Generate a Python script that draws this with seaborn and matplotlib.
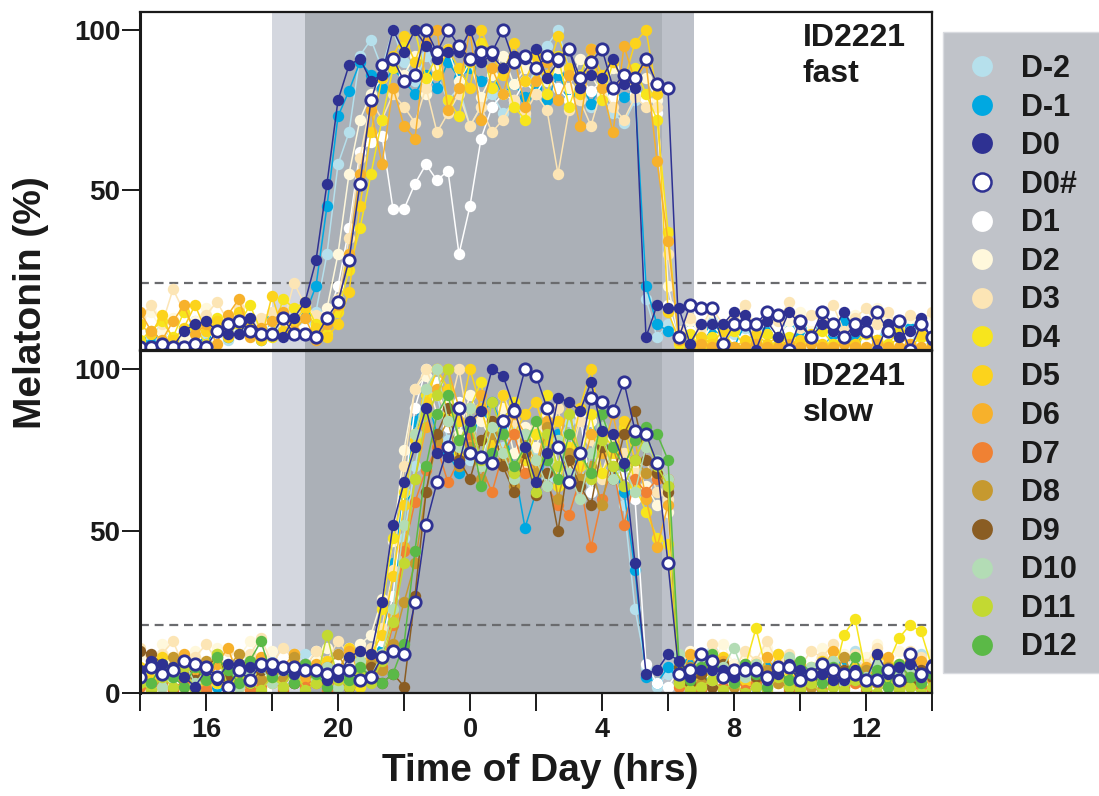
import numpy as np
import pandas as pd
import matplotlib
matplotlib.use("Agg")
import matplotlib.pyplot as plt
from matplotlib.lines import Line2D
from matplotlib.patches import Rectangle
import seaborn as sns

# Samples every 20 min, 14:00 -> 14:00 next day (hours past midnight > 24)
START_HOUR = 14
STEP_HOURS = 1 / 3

DAYS = ["D-2", "D-1", "D0", "D0#", "D1", "D2", "D3", "D4", "D5", "D6",
        "D7", "D8", "D9", "D10", "D11", "D12"]
DAY_COLORS = ["#B6E0EC", "#00A8E1", "#2E3192", "#2E3192", "#FFFFFF", "#FFF8DC",
              "#FCE5B5", "#F7E51D", "#FCD31C", "#F7B12B", "#F08133", "#C6992F",
              "#8A5D23", "#B3DCB5", "#C3D932", "#5BB947"]

# ---- ID2221 (fast) ----
FAST_DM2 = [6, 3, 8, 5, 2, 9, 4, 7, 3, 6, 8, 4,
            7, 5, 9, 8, 12, 30, 58, 68, 92, 97, 88, 100,
            90, 84, 92, 86, 78, 82, 70, 76, 80, 74, 77, 73,
            85, 95, 100, 88, 82, 76, 80, 74, 71, 78, 16, 4,
            8, 2, 6, 4, 9, 3, 5, 7, 2, 6, 4, 8,
            3, 7, 5, 2, 8, 4, 6, 3, 9, 5, 2, 7,
            4]
FAST_DM1 = [4, 2, 6, 3, 8, 5, 2, 7, 4, 9, 6, 3,
            10, 6, 8, 11, 20, 45, 73, 81, 90, 86, 82, 88,
            84, 80, 86, 82, 90, 85, 88, 84, 86, 80, 83, 79,
            82, 78, 86, 80, 84, 77, 83, 80, 79, 81, 20, 8,
            6, 3, 9, 2, 7, 4, 1, 8, 3, 6, 2, 9,
            4, 7, 1, 5, 9, 3, 6, 2, 8, 4, 7, 3,
            5]
FAST_D0 = [1, 1, 2, 1, 6, 8, 9, 6, 5, 5, 10, 5,
           5, 4, 10, 15, 28, 52, 78, 89, 91, 84, 86, 100,
           93, 100, 95, 91, 93, 93, 100, 90, 92, 88, 92, 91,
           94, 85, 90, 94, 82, 86, 85, 91, 83, 82, 4, 14,
           13, 13, 2, 8, 8, 8, 12, 11, 0, 9, 4, 12,
           8, 4, 8, 6, 12, 6, 9, 0, 8, 4, 6, 10,
           3]
FAST_D0H = [1, 1, 2, 1, 1, 2, 1, 6, 8, 9, 6, 5,
            5, 10, 5, 5, 4, 10, 15, 28, 52, 78, 89, 91,
            84, 86, 100, 93, 100, 95, 91, 93, 93, 100, 90, 92,
            88, 92, 91, 94, 85, 90, 94, 82, 86, 85, 91, 83,
            82, 4, 14, 13, 13, 2, 8, 8, 8, 12, 11, 0,
            9, 4, 12, 8, 4, 8, 6, 12, 6, 9, 0, 8,
            4]
FAST_D1 = [5, 8, 3, 6, 9, 4, 7, 2, 8, 5, 3, 9,
           6, 4, 8, 7, 5, 10, 20, 38, 62, 65, 67, 44,
           44, 52, 58, 53, 56, 30, 45, 66, 76, 80, 78, 84,
           80, 86, 82, 78, 85, 81, 84, 79, 83, 80, 78, 74,
           14, 3, 6, 2, 8, 4, 7, 1, 5, 9, 3, 6,
           2, 8, 4, 6, 3, 7, 5, 1, 8, 4, 6, 3,
           7]
FAST_D2 = [8, 12, 6, 10, 4, 9, 13, 7, 5, 11, 8, 6,
           9, 12, 7, 14, 10, 13, 30, 55, 72, 80, 85, 90,
           86, 92, 80, 88, 94, 84, 90, 79, 86, 92, 83, 88,
           90, 84, 88, 82, 91, 86, 80, 88, 84, 82, 85, 78,
           20, 4, 9, 6, 12, 5, 8, 14, 7, 10, 4, 9,
           12, 6, 10, 8, 5, 11, 7, 13, 9, 6, 10, 8,
           11]
FAST_D3 = [10, 14, 8, 19, 12, 7, 11, 15, 9, 13, 6, 10,
           12, 8, 21, 14, 11, 9, 16, 35, 60, 78, 72, 80,
           76, 71, 82, 68, 74, 80, 70, 76, 68, 72, 78, 74,
           80, 75, 55, 75, 78, 70, 82, 76, 72, 79, 76, 76,
           30, 6, 10, 7, 13, 8, 11, 14, 6, 12, 9, 15,
           7, 11, 9, 14, 6, 10, 13, 8, 12, 7, 11, 9,
           12]
FAST_D4 = [3, 6, 9, 4, 12, 7, 2, 10, 5, 8, 14, 6,
           4, 16, 13, 15, 8, 5, 12, 25, 38, 55, 72, 88,
           95, 100, 85, 92, 78, 73, 90, 96, 82, 88, 76, 72,
           88, 80, 92, 76, 86, 94, 78, 90, 84, 88, 80, 72,
           37, 2, 5, 1, 4, 2, 6, 1, 3, 5, 2, 4,
           1, 3, 6, 2, 4, 1, 5, 3, 2, 6, 1, 4,
           2]
FAST_D5 = [8, 5, 11, 3, 7, 14, 6, 9, 4, 12, 7, 3,
           17, 6, 9, 13, 7, 4, 8, 18, 45, 68, 85, 92,
           98, 90, 100, 86, 94, 88, 82, 100, 92, 86, 96, 84,
           92, 86, 98, 88, 80, 94, 86, 90, 84, 96, 100, 80,
           12, 3, 1, 4, 2, 6, 1, 3, 5, 2, 4, 1,
           3, 5, 2, 1, 4, 2, 6, 3, 1, 4, 2, 5,
           1]
FAST_D6 = [12, 6, 3, 9, 14, 5, 8, 2, 11, 16, 4, 7,
           9, 12, 6, 10, 3, 8, 14, 30, 55, 75, 58, 82,
           70, 66, 96, 100, 75, 82, 100, 72, 88, 80, 92, 76,
           84, 90, 78, 86, 70, 94, 82, 68, 95, 84, 90, 59,
           34, 3, 1, 2, 1, 2, 1, 1, 2, 1, 1, 2,
           1, 2, 1, 1, 2, 1, 1, 2, 1, 1, 2, 1,
           1]

# ---- ID2241 (slow) ----
SLOW_DM2 = [9, 5, 12, 7, 4, 10, 6, 13, 8, 5, 11, 7,
            10, 6, 9, 12, 5, 8, 11, 7, 9, 13, 10, 22,
            48, 70, 86, 92, 78, 84, 72, 88, 80, 76, 82, 70,
            74, 66, 78, 84, 70, 62, 76, 68, 58, 26, 8, 2,
            6, 11, 4, 8, 13, 5, 9, 3, 10, 7, 12, 5,
            8, 4, 11, 6, 9, 13, 5, 7, 10, 4, 8, 12,
            6]
SLOW_DM1 = [6, 3, 8, 5, 9, 4, 7, 2, 6, 10, 5, 8,
            4, 7, 3, 9, 6, 5, 8, 4, 10, 7, 14, 40,
            61, 84, 92, 80, 74, 68, 78, 86, 90, 82, 70, 51,
            62, 74, 80, 66, 72, 84, 76, 70, 62, 38, 5, 3,
            8, 4, 10, 6, 3, 9, 5, 7, 2, 8, 6, 4,
            9, 3, 7, 5, 10, 4, 6, 8, 3, 7, 5, 9,
            4]
SLOW_D0 = [7, 10, 9, 8, 5, 2, 7, 4, 9, 9, 8, 8,
           7, 7, 6, 7, 7, 4, 5, 11, 13, 12, 28, 52,
           65, 76, 88, 74, 73, 71, 84, 87, 100, 98, 88, 76,
           65, 74, 91, 90, 87, 96, 81, 80, 71, 40, 6, 7,
           12, 10, 5, 7, 7, 7, 5, 8, 8, 4, 6, 9,
           7, 6, 6, 4, 4, 7, 4, 12, 6, 8, 9, 5,
           9]
SLOW_D0H = [5, 8, 6, 7, 10, 9, 8, 5, 2, 7, 4, 9,
            9, 8, 8, 7, 7, 6, 7, 7, 4, 5, 11, 13,
            12, 28, 52, 65, 76, 88, 74, 73, 71, 84, 87, 100,
            98, 88, 76, 65, 74, 91, 90, 87, 96, 81, 80, 71,
            40, 6, 7, 12, 10, 5, 7, 7, 7, 5, 8, 8,
            4, 6, 9, 7, 6, 6, 4, 4, 7, 4, 12, 6,
            8]
SLOW_D1 = [10, 6, 13, 8, 4, 11, 7, 3, 9, 12, 5, 8,
           6, 11, 4, 9, 13, 7, 10, 14, 8, 12, 16, 30,
           62, 88, 100, 96, 82, 90, 76, 70, 84, 72, 88, 78,
           70, 80, 66, 74, 86, 62, 78, 72, 68, 60, 9, 3,
           2, 7, 4, 10, 6, 3, 8, 5, 11, 4, 7, 2,
           6, 9, 3, 8, 5, 2, 7, 10, 4, 6, 3, 8,
           5]
SLOW_D2 = [12, 8, 15, 10, 6, 13, 9, 14, 7, 11, 16, 9,
           13, 8, 11, 6, 10, 14, 12, 9, 15, 18, 29, 47,
           75, 94, 98, 86, 90, 80, 92, 84, 78, 88, 74, 82,
           76, 86, 70, 80, 74, 84, 68, 78, 72, 70, 64, 58,
           56, 8, 13, 6, 10, 15, 9, 12, 7, 14, 11, 6,
           10, 7, 14, 9, 12, 6, 11, 15, 8, 13, 10, 7,
           12]
SLOW_D3 = [14, 9, 12, 16, 8, 11, 15, 10, 13, 7, 12, 17,
           9, 14, 11, 8, 13, 10, 16, 12, 9, 14, 20, 38,
           70, 94, 100, 92, 86, 100, 80, 88, 76, 92, 84, 70,
           82, 74, 88, 70, 84, 78, 66, 80, 74, 68, 72, 62,
           60, 9, 12, 8, 15, 11, 7, 13, 10, 16, 9, 12,
           8, 13, 11, 15, 7, 12, 9, 14, 10, 8, 13, 11,
           9]
SLOW_D4 = [3, 6, 2, 8, 4, 1, 7, 3, 5, 2, 9, 4,
           6, 2, 8, 3, 5, 1, 4, 7, 2, 6, 26, 48,
           62, 80, 92, 100, 86, 74, 88, 96, 78, 84, 90, 72,
           80, 92, 64, 76, 70, 86, 68, 74, 82, 64, 56, 48,
           46, 3, 7, 2, 9, 5, 4, 8, 20, 6, 3, 7,
           2, 8, 5, 4, 18, 23, 6, 3, 9, 17, 21, 19,
           8]
SLOW_D5 = [8, 4, 11, 6, 2, 9, 5, 12, 3, 7, 10, 4,
           9, 5, 12, 7, 3, 10, 6, 14, 9, 12, 18, 36,
           58, 78, 90, 100, 94, 84, 100, 88, 76, 92, 80, 86,
           90, 78, 84, 72, 88, 100, 80, 76, 84, 72, 80, 70,
           64, 5, 2, 8, 4, 11, 6, 3, 9, 5, 12, 4,
           7, 3, 10, 5, 2, 8, 6, 11, 4, 9, 3, 7,
           5]
SLOW_D6 = [5, 10, 3, 8, 12, 6, 2, 9, 14, 4, 7, 11,
           3, 8, 12, 5, 9, 2, 7, 13, 6, 10, 12, 24,
           45, 66, 82, 94, 100, 88, 78, 92, 84, 74, 86, 80,
           70, 84, 76, 90, 66, 80, 74, 86, 70, 78, 60, 45,
           58, 4, 12, 6, 2, 10, 5, 8, 3, 11, 6, 2,
           9, 4, 7, 13, 5, 3, 8, 6, 11, 2, 7, 10,
           4]
SLOW_D7 = [2, 1, 3, 1, 4, 2, 1, 5, 2, 3, 1, 2,
           4, 1, 3, 2, 5, 1, 3, 2, 6, 4, 8, 21,
           44, 59, 69, 76, 65, 72, 80, 70, 62, 74, 80, 68,
           72, 64, 58, 55, 66, 45, 60, 70, 52, 66, 62, 66,
           66, 2, 4, 1, 3, 2, 5, 1, 3, 2, 4, 1,
           3, 2, 1, 4, 2, 3, 1, 5, 2, 1, 3, 2,
           1]
SLOW_D8 = [6, 9, 4, 11, 7, 3, 10, 5, 8, 12, 6, 4,
           9, 5, 11, 7, 3, 8, 12, 6, 4, 9, 7, 15,
           28, 40, 62, 78, 84, 70, 76, 66, 80, 72, 64, 78,
           68, 82, 60, 74, 66, 70, 58, 76, 64, 72, 68, 68,
           64, 4, 8, 3, 11, 6, 2, 9, 5, 7, 3, 10,
           6, 2, 9, 5, 11, 4, 7, 3, 8, 6, 10, 4,
           7]
SLOW_D9 = [13, 12, 9, 6, 10, 4, 8, 11, 5, 9, 3, 7,
           5, 8, 3, 9, 6, 4, 7, 2, 5, 8, 3, 6,
           2, 30, 62, 80, 88, 72, 66, 78, 84, 70, 62, 74,
           61, 68, 50, 72, 64, 58, 76, 66, 80, 87, 72, 68,
           62, 8, 3, 6, 2, 9, 4, 7, 5, 3, 8, 2,
           6, 4, 9, 3, 7, 5, 2, 8, 4, 6, 3, 7,
           5]
SLOW_D10 = [4, 8, 2, 6, 10, 3, 7, 5, 9, 2, 6, 8,
            3, 7, 5, 9, 4, 8, 2, 6, 10, 5, 12, 26,
            52, 80, 94, 100, 84, 76, 88, 70, 82, 74, 66, 80,
            72, 64, 78, 68, 60, 74, 82, 66, 70, 62, 76, 72,
            66, 12, 6, 10, 4, 8, 14, 5, 9, 3, 7, 11,
            4, 8, 6, 10, 3, 7, 5, 9, 2, 6, 8, 4,
            7]
SLOW_D11 = [3, 1, 5, 2, 8, 1, 4, 12, 2, 6, 3, 1,
            5, 2, 7, 1, 3, 18, 4, 2, 6, 3, 10, 22,
            40, 66, 86, 92, 100, 78, 84, 72, 90, 80, 68, 76,
            62, 80, 70, 86, 74, 66, 78, 70, 64, 72, 80, 70,
            64, 3, 1, 2, 4, 1, 3, 0, 2, 1, 5, 2,
            1, 3, 0, 2, 1, 4, 2, 0, 3, 1, 2, 0,
            2]
SLOW_D12 = [6, 3, 9, 5, 2, 8, 4, 11, 7, 3, 10, 16,
            5, 8, 3, 9, 6, 2, 7, 4, 8, 5, 3, 6,
            15, 44, 70, 86, 92, 78, 82, 64, 74, 80, 70, 76,
            84, 72, 66, 80, 74, 68, 86, 76, 70, 78, 82, 80,
            72, 10, 4, 8, 12, 5, 3, 9, 6, 2, 7, 4,
            10, 6, 3, 8, 5, 11, 4, 7, 2, 9, 5, 3,
            6]

FAST_SERIES = {"D-2": FAST_DM2, "D-1": FAST_DM1, "D0": FAST_D0, "D0#": FAST_D0H,
               "D1": FAST_D1, "D2": FAST_D2, "D3": FAST_D3, "D4": FAST_D4,
               "D5": FAST_D5, "D6": FAST_D6}
SLOW_SERIES = {"D-2": SLOW_DM2, "D-1": SLOW_DM1, "D0": SLOW_D0, "D0#": SLOW_D0H,
               "D1": SLOW_D1, "D2": SLOW_D2, "D3": SLOW_D3, "D4": SLOW_D4,
               "D5": SLOW_D5, "D6": SLOW_D6, "D7": SLOW_D7, "D8": SLOW_D8,
               "D9": SLOW_D9, "D10": SLOW_D10, "D11": SLOW_D11, "D12": SLOW_D12}

# Lighting: dim band, dark (sleep) period, dim band
DIM_BEFORE = (18.0, 19.0)
DARK = (19.0, 29.83)
DIM_AFTER = (29.83, 30.8)
THRESHOLD = 21

X_TICKS = list(range(14, 39, 2))
X_LABELED = [16, 20, 24, 28, 32, 36]


def to_frame(series, subject):
    rows = []
    for day, vals in series.items():
        hrs = START_HOUR + np.arange(len(vals)) * STEP_HOURS
        rows.append(pd.DataFrame({"subject": subject, "day": day,
                                  "hour": hrs, "melatonin": vals}))
    return pd.concat(rows, ignore_index=True)


data = pd.concat([to_frame(FAST_SERIES, "ID2221\nfast"),
                  to_frame(SLOW_SERIES, "ID2241\nslow")], ignore_index=True)

sns.set_theme(style="white")
plt.rcParams["font.family"] = ["Liberation Sans", "DejaVu Sans"]
plt.rcParams["font.weight"] = "bold"

color_of = dict(zip(DAYS, DAY_COLORS))
navy = color_of["D0"]

fig = plt.figure(figsize=(10.99, 7.96), dpi=100)
ax_top = fig.add_axes([140 / 1099, 1 - 350 / 796, 792 / 1099, 338 / 796])
ax_bot = fig.add_axes([140 / 1099, 1 - 693 / 796, 792 / 1099, 342 / 796])

draw_order = ["D-2", "D-1", "D1", "D2", "D3", "D4", "D5", "D6", "D7", "D8",
              "D9", "D10", "D11", "D12", "D0", "D0#"]

for ax, subject in [(ax_top, "ID2221\nfast"), (ax_bot, "ID2241\nslow")]:
    ax.set_facecolor("white")
    ax.axvspan(*DIM_BEFORE, color="#D4D7DF", lw=0, zorder=0)
    ax.axvspan(*DARK, color="#ABB0B7", lw=0, zorder=0)
    ax.axvspan(*DIM_AFTER, color="#BDC1C9", lw=0, zorder=0)
    ax.axhline(THRESHOLD, color="#6A6B6E", lw=1.6, ls=(0, (4, 2.6)), zorder=1)

    sub = data[data["subject"] == subject]
    for k, day in enumerate(draw_order):
        d = sub[sub["day"] == day]
        if d.empty:
            continue
        c = color_of[day]
        if day == "D0#":
            sns.lineplot(data=d, x="hour", y="melatonin", ax=ax, color=c,
                         lw=1.1, marker="o", markersize=8.2,
                         markerfacecolor="white", markeredgecolor=navy,
                         markeredgewidth=2.0, legend=False, zorder=3 + k)
        else:
            sns.lineplot(data=d, x="hour", y="melatonin", ax=ax, color=c,
                         lw=1.1, marker="o", markersize=8.2,
                         markeredgecolor=c, markeredgewidth=0,
                         legend=False, zorder=3 + k)

    ax.set_xlim(14, 38)
    ax.set_ylim(0, 105.6)
    ax.set_xlabel("")
    ax.set_ylabel("")
    for side, sp in ax.spines.items():
        sp.set_visible(True)
        sp.set_color("#1a1a1a")
        sp.set_linewidth(1.6)
        sp.set_zorder(50)
    ax.spines["left"].set_linewidth(2.2)
    ax.tick_params(axis="y", which="both", left=True, direction="out",
                   length=13, width=1.4, pad=1, labelsize=20, colors="#1a1a1a")
    ax.text(0.837, 0.968, subject, transform=ax.transAxes, ha="left",
            va="top", fontsize=23, fontweight="bold", color="#1a1a1a",
            linespacing=1.25, zorder=60)

ax_top.set_yticks([50, 100])
ax_bot.set_yticks([0, 50, 100])
ax_top.tick_params(axis="x", bottom=False, labelbottom=False)
ax_bot.set_xticks(X_TICKS)
ax_bot.set_xticklabels([str(h % 24) if h in X_LABELED else "" for h in X_TICKS])
ax_bot.tick_params(axis="x", bottom=True, direction="out", length=13, width=1.4,
                   pad=4, labelsize=19.5, colors="#1a1a1a")
for lab in ax_bot.get_xticklabels() + ax_bot.get_yticklabels() + ax_top.get_yticklabels():
    lab.set_fontweight("bold")

fig.text(31 / 1099, 1 - 303 / 796, "Melatonin (%)", rotation=90, ha="center",
         va="center", fontsize=28, fontweight="bold", color="#1a1a1a")
fig.text(540 / 1099, 1 - 771 / 796, "Time of Day (hrs)", ha="center",
         va="center", fontsize=28, fontweight="bold", color="#1a1a1a")

# Legend on a grey panel at the right
fig.patches.append(Rectangle((943 / 1099, 1 - 673 / 796), 160 / 1099, 641 / 796,
                             transform=fig.transFigure, facecolor="#C0C3C9",
                             edgecolor="#D9DBE0", lw=1, zorder=0))
handles = []
for day in DAYS:
    c = color_of[day]
    if day == "D0#":
        h = Line2D([], [], ls="none", marker="o", markersize=13,
                   markerfacecolor="white", markeredgecolor=navy, markeredgewidth=1.8)
    else:
        h = Line2D([], [], ls="none", marker="o", markersize=15,
                   markerfacecolor=c, markeredgewidth=0)
    handles.append(h)
leg = fig.legend(handles, DAYS, loc="upper left", bbox_to_anchor=(967 / 1099, 1 - 54 / 796),
                 frameon=False, handlelength=1.0, handletextpad=0.78,
                 labelspacing=0.28, borderpad=0, borderaxespad=0,
                 prop={"size": 22, "weight": "bold"})
for t in leg.get_texts():
    t.set_color("#1a1a1a")

fig.savefig("out.png", dpi=100)
